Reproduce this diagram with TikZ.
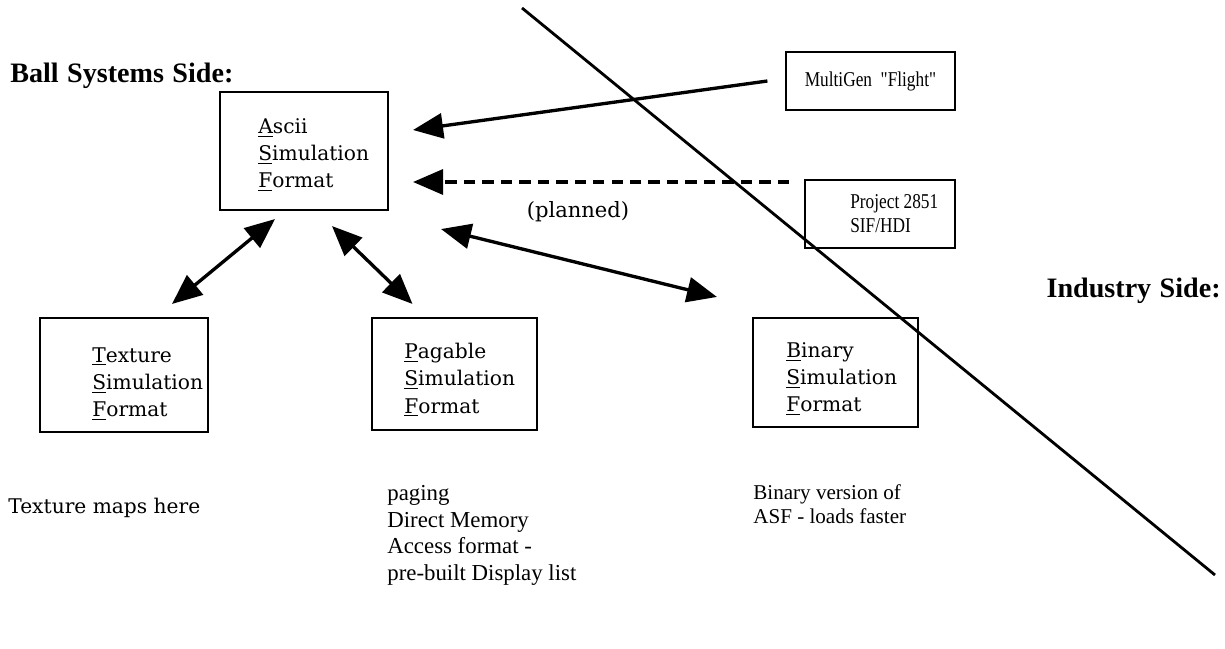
\documentclass[tikz,border=0pt]{standalone}
\usepackage{fontspec}
\setmainfont{Liberation Serif}
\newfontfamily\boxfont{DejaVu Serif}
\newfontfamily\srcfont[Ligatures=TeXOff, FakeStretch=0.82]{Liberation Serif}
\usepackage{tikz}
\usetikzlibrary{arrows.meta,calc}
\tikzset{
  sidehead/.style={font=\bfseries\fontsize{16}{18}\selectfont, inner sep=0pt},
  fmtbox/.style={draw, line width=1.2pt, inner sep=0pt},
  fmttext/.style={font=\boxfont\fontsize{11.5}{15.5}\selectfont, align=left, inner sep=0pt},
  srcbox/.style={draw, line width=1.2pt, inner sep=0pt, font=\srcfont\fontsize{12}{13.7}\selectfont, align=left},
  srctext/.style={font=\srcfont\fontsize{12}{13.7}\selectfont, align=left, inner sep=0pt},
  note/.style={font=\fontsize{13}{15.2}\selectfont, align=left, inner sep=0pt},
  feed/.style={line width=1.9pt, -{Triangle[length=0.6cm, width=0.5cm]}},
  swap/.style={line width=1.9pt, {Triangle[length=0.6cm, width=0.5cm]}-{Triangle[length=0.6cm, width=0.5cm]}},
}

\begin{document}
\begin{tikzpicture}[x=0.02cm, y=-0.02cm]
  \useasboundingbox (0,0) rectangle (1225,649);
  % the two sides
  \node[sidehead, anchor=west] (ballside) at (10,76) {Ball\hspace{0.3em}Systems\hspace{0.3em}Side:};
  \node[sidehead, anchor=east] (indside) at (1221,291) {Industry\hspace{0.3em}Side:};
  \coordinate (divtop) at (522,8);
  \coordinate (divbot) at (1215,575);
  \draw[line width=1.6pt] (divtop) -- (divbot);
  % formats on our side
  \node[fmtbox, minimum width=3.36cm, minimum height=2.36cm] (asf) at (304,151) {};
  \node[fmttext, anchor=west] at (258,155) {\underline{A}scii\\\underline{S}imulation\\\underline{F}ormat};
  \node[fmtbox, minimum width=3.36cm, minimum height=2.28cm] (tsf) at (124,375) {};
  \node[fmttext, anchor=west] at (92,384) {\underline{T}exture\\\underline{S}imulation\\\underline{F}ormat};
  \node[fmtbox, minimum width=3.3cm, minimum height=2.24cm] (psf) at (454.5,374) {};
  \node[fmttext, anchor=west] at (404,380) {\underline{P}agable\\\underline{S}imulation\\\underline{F}ormat};
  \node[fmtbox, minimum width=3.3cm, minimum height=2.18cm] (bsf) at (835.5,372.5) {};
  \node[fmttext, anchor=west] at (786,379) {\underline{B}inary\\\underline{S}imulation\\\underline{F}ormat};
  % industry tools
  \node[srcbox, minimum width=3.38cm, minimum height=1.16cm] (flight) at (870.5,81) {MultiGen\ \ "Flight"};
  \node[srcbox, minimum width=3.0cm, minimum height=1.36cm] (proj) at (880,214) {};
  \node[srctext, anchor=west] at (850,214) {Project 2851\\SIF/HDI};
  % conversions
  \draw[feed] ([xshift=-10]flight.west) -- ([shift={(24,-21)}]asf.east);
  \draw[feed, dashed, dash pattern=on 6.5pt off 4pt] ([shift={(-15,-32)}]proj.west) -- ([shift={(24,31)}]asf.east);
  \node[fmttext, font=\boxfont\fontsize{12}{14}\selectfont] (planned) at (578,212) {(planned)};
  \draw[swap] ([shift={(-29,8)}]asf.south) -- ([shift={(48,-13)}]tsf.north);
  \draw[swap] ([shift={(28,15)}]asf.south) -- ([shift={(-42,-13)}]psf.north);
  \draw[swap] ([shift={(52,18)}]asf.south east) -- ([shift={(-35,-20)}]bsf.north west);
  % notes under the boxes
  \node[note, font=\boxfont\fontsize{11.5}{15}\selectfont, anchor=west] (tnote) at (8,508) {Texture maps here};
  \node[note, anchor=north west] (pnote) at (387,485) {paging\\Direct Memory\\Access format -\\pre-built Display list};
  \node[note, font=\fontsize{12}{14}\selectfont, anchor=north west] (bnote) at (753,484) {Binary version of\\ASF - loads faster};
\end{tikzpicture}
\end{document}
